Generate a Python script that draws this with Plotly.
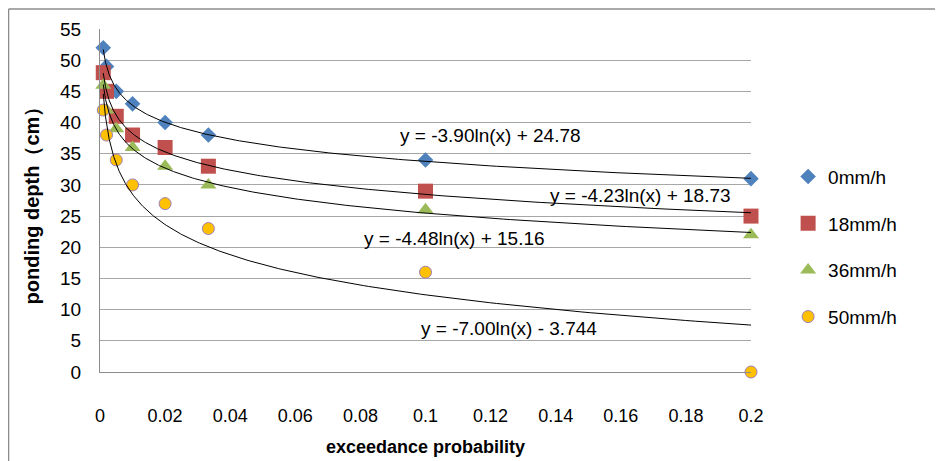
import numpy as np
import plotly.graph_objects as go

# ---- data ----
prob = [0.001, 0.002, 0.005, 0.01, 0.02, 0.0333, 0.1, 0.2]
depth_0 = [52, 49, 45, 43, 40, 38, 34, 31]
depth_18 = [48, 45, 41, 38, 36, 33, 29, 25]
depth_36 = [46, 42, 39, 36, 33, 30, 26, 22]
depth_50 = [42, 38, 34, 30, 27, 23, 16, 0]
series_names = ["0mm/h", "18mm/h", "36mm/h", "50mm/h"]
# trendline coefficients y = a*ln(x) + b
trend_a = [-3.90, -4.23, -4.48, -7.00]
trend_b = [24.78, 18.73, 15.16, -3.744]
trend_labels = ["y = -3.90ln(x) + 24.78", "y = -4.23ln(x) + 18.73",
                "y = -4.48ln(x) + 15.16", "y = -7.00ln(x) - 3.744"]
label_x = [0.1199, 0.1659, 0.109, 0.1256]
label_y = [37.9, 28.3, 21.4, 7.0]
y_ticks = list(range(0, 60, 5))

FONT = "Liberation Sans, Arial, sans-serif"
colors = ["#4F81BD", "#C0504D", "#9BBB59", "#FFC000"]
symbols = ["diamond", "square", "triangle-up", "circle"]
sizes = [12, 15, 14, 12]
all_series = [depth_0, depth_18, depth_36, depth_50]

fig = go.Figure()
for i, (name, vals) in enumerate(zip(series_names, all_series)):
    line = dict(width=1, color="#9B7FB8") if symbols[i] == "circle" else dict(width=0)
    fig.add_trace(go.Scatter(
        x=prob, y=vals, mode="markers", name=name, legendgroup=name,
        marker=dict(symbol=symbols[i], size=sizes[i], color=colors[i], line=line),
        cliponaxis=False,
    ))

xs = np.geomspace(min(prob), max(prob), 300)
for a, b in zip(trend_a, trend_b):
    fig.add_trace(go.Scatter(x=xs, y=a * np.log(xs) + b, mode="lines",
                             line=dict(color="black", width=1),
                             showlegend=False, hoverinfo="skip"))

annotations = []
for t, lx, ly in zip(trend_labels, label_x, label_y):
    annotations.append(dict(x=lx, y=ly, xref="x", yref="y", text=t, showarrow=False,
                            font=dict(family=FONT, size=19, color="black")))
annotations.append(dict(x=0.5, y=-0.219, xref="paper", yref="paper",
                        text="<b>exceedance probability</b>", showarrow=False,
                        font=dict(family=FONT, size=18, color="black"), yanchor="middle"))
annotations.append(dict(x=-0.1045, y=0.5, xref="paper", yref="paper",
                        text="<b>ponding depth（cm）</b>", showarrow=False, textangle=-90,
                        font=dict(family=FONT, size=20, color="black"), xanchor="center"))

shapes = [
    dict(type="line", xref="paper", yref="paper", x0=-0.1405, x1=1.30, y0=1.058, y1=1.058,
         line=dict(color="#8c8c8c", width=1.5)),
    dict(type="line", xref="paper", yref="paper", x0=-0.1405, x1=-0.1405, y0=1.058, y1=-0.3,
         line=dict(color="#8c8c8c", width=1.5)),
]

fig.update_layout(
    width=935, height=453,
    margin=dict(l=92, r=192, t=21, b=89),
    paper_bgcolor="white", plot_bgcolor="white",
    font=dict(family=FONT, size=18, color="black"),
    showlegend=True,
    legend=dict(x=1.057, y=0.625, xanchor="left", yanchor="top",
                font=dict(family=FONT, size=19, color="black"),
                tracegroupgap=19, bgcolor="rgba(0,0,0,0)"),
    annotations=annotations,
    shapes=shapes,
    xaxis=dict(range=[0, 0.2], dtick=0.02, tick0=0, showgrid=False, zeroline=False,
               showline=True, linecolor="#8c8c8c", linewidth=1, ticks="",
               ticklabelstandoff=27, tickfont=dict(size=18)),
    yaxis=dict(range=[0, 55], tickvals=y_ticks, showgrid=True, gridcolor="#a6a6a6",
               gridwidth=1, zeroline=False, showline=True, linecolor="#8c8c8c",
               linewidth=1, ticks="", ticklabelstandoff=14, tickfont=dict(size=19)),
)

fig.write_html("out.html")
